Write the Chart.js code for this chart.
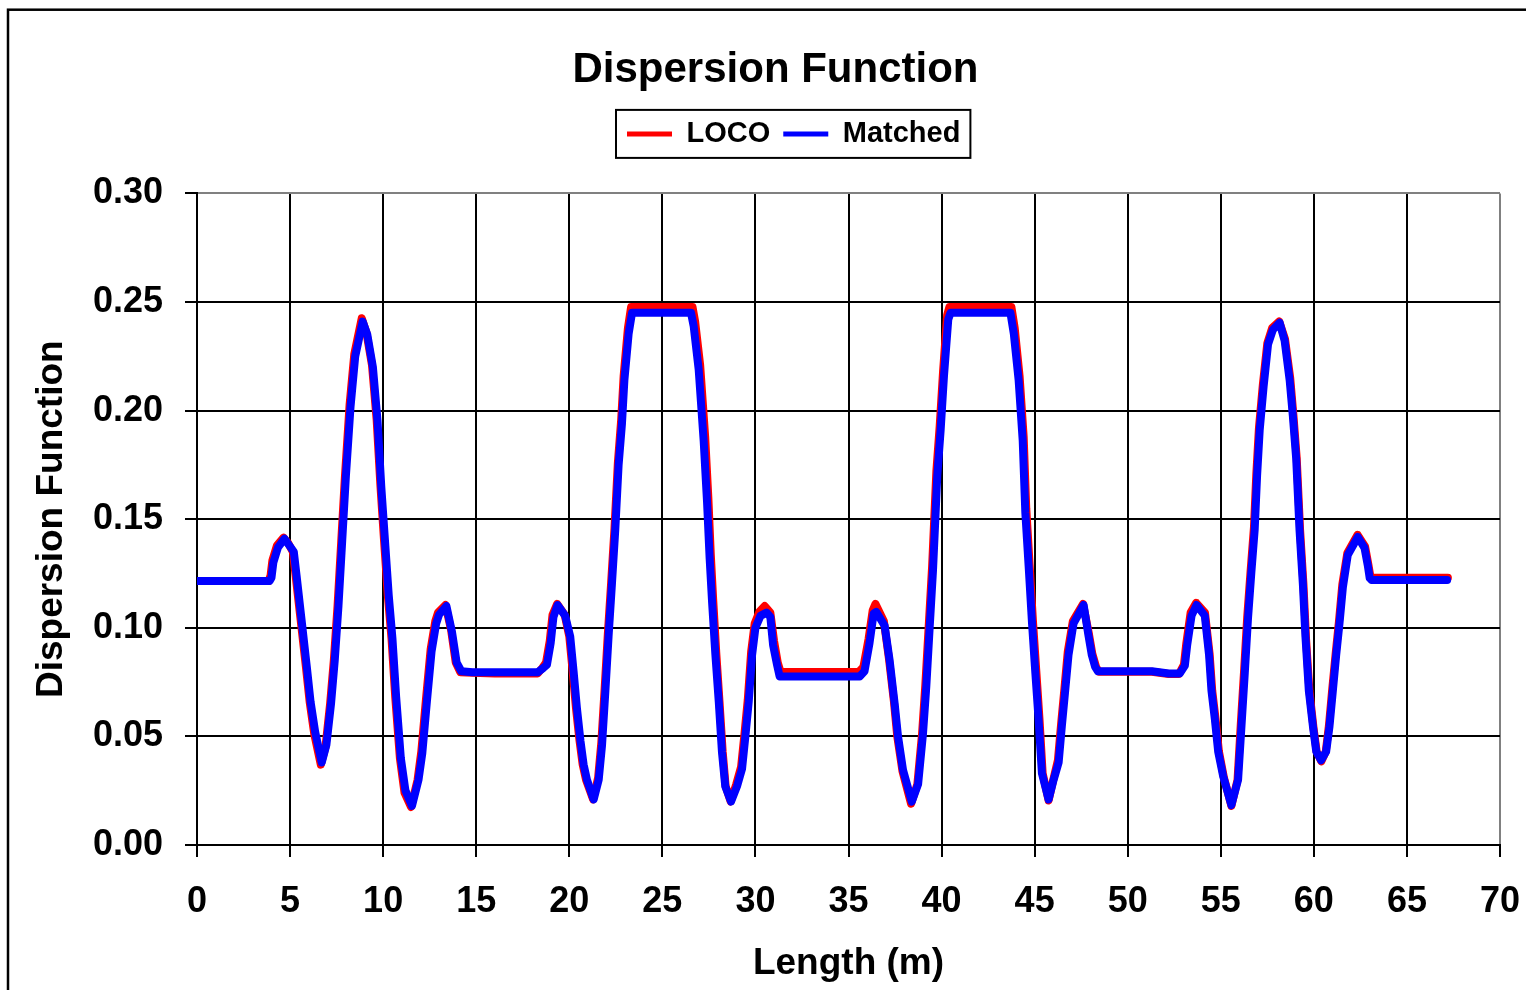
<!DOCTYPE html>
<html>
<head>
<meta charset="utf-8">
<title>Dispersion Function</title>
<script src="https://cdn.jsdelivr.net/npm/chart.js@4.4.1/dist/chart.umd.min.js"></script>
<style>
  html, body { margin: 0; padding: 0; background: #ffffff; }
  canvas { display: block; }
</style>
</head>
<body>
<canvas id="chart" width="1526" height="990"></canvas>
<script>
// Dispersion function along the lattice (m)
const seriesNames = ['LOCO', 'Matched'];

const locoLength = [
  0, 3.85, 3.95, 4.05, 4.3, 4.65, 4.9, 5.15, 5.3, 5.55, 5.85, 6.05, 6.3, 6.65, 6.9, 7.15, 7.35, 7.55, 7.75, 7.95,
  8.2, 8.45, 8.85, 9.1, 9.4, 9.65, 9.85, 10.05, 10.25, 10.45, 10.65, 10.9, 11.15, 11.5, 11.85, 12.05, 12.3, 12.55,
  12.8, 12.95, 13.35, 13.65, 13.9, 14.15, 14.8, 16, 18.3, 18.55, 18.75, 18.95, 19.1, 19.35, 19.75, 20.0, 20.18,
  20.36, 20.55, 20.72, 20.9, 21.28, 21.55, 21.72, 21.9, 22.07, 22.25, 22.43, 22.61, 22.79, 22.92, 23.15, 23.32,
  26.62, 26.76, 27.03, 27.3, 27.47, 27.6, 27.73, 27.9, 28.07, 28.24, 28.4, 28.67, 28.97, 29.23, 29.41, 29.59,
  29.77, 29.96, 30.22, 30.5, 30.8, 31.0, 31.2, 31.35, 33, 35.55, 35.8, 36.08, 36.3, 36.45, 36.9, 37.17, 37.44,
  37.62, 37.9, 38.36, 38.7, 38.95, 39.13, 39.31, 39.49, 39.72, 39.9, 40.08, 40.3, 40.42, 43.75, 43.93, 44.19,
  44.41, 44.55, 44.73, 44.91, 45.09, 45.26, 45.43, 45.75, 46.0, 46.25, 46.42, 46.6, 46.78, 47.05, 47.6, 47.92,
  48.1, 48.3, 48.45, 51.3, 52.2, 52.75, 53.02, 53.15, 53.38, 53.68, 54.15, 54.4, 54.54, 54.72, 54.9, 55.17,
  55.57, 55.9, 56.07, 56.25, 56.42, 56.6, 56.78, 56.91, 57.05, 57.26, 57.5, 57.76, 58.14, 58.45, 58.73, 58.9,
  59.08, 59.26, 59.44, 59.58, 59.76, 59.98, 60.15, 60.4, 60.64, 60.81, 60.99, 61.17, 61.35, 61.53, 61.8, 62.35,
  62.75, 62.93, 63.03, 63.12, 67.2
];
const locoDispersion = [
  0.1215, 0.1215, 0.124, 0.131, 0.138, 0.1415, 0.139, 0.135, 0.124, 0.105, 0.082, 0.066, 0.051, 0.037, 0.045,
  0.065, 0.085, 0.110, 0.140, 0.170, 0.203, 0.226, 0.2425, 0.236, 0.221, 0.196, 0.166, 0.140, 0.115, 0.095,
  0.068, 0.040, 0.024, 0.0175, 0.030, 0.043, 0.067, 0.090, 0.103, 0.107, 0.1105, 0.099, 0.084, 0.0795, 0.0793,
  0.079, 0.079, 0.0815, 0.084, 0.094, 0.106, 0.111, 0.106, 0.096, 0.080, 0.063, 0.048, 0.037, 0.030, 0.021,
  0.031, 0.047, 0.072, 0.097, 0.121, 0.146, 0.176, 0.196, 0.216, 0.238, 0.2477, 0.2477, 0.241, 0.221, 0.188,
  0.160, 0.134, 0.113, 0.088, 0.066, 0.043, 0.027, 0.020, 0.028, 0.036, 0.051, 0.067, 0.089, 0.102, 0.1075,
  0.110, 0.107, 0.094, 0.084, 0.0797, 0.0797, 0.0797, 0.082, 0.095, 0.108, 0.111, 0.103, 0.086, 0.066, 0.050,
  0.034, 0.019, 0.028, 0.051, 0.074, 0.101, 0.128, 0.172, 0.193, 0.218, 0.244, 0.2477, 0.2477, 0.238, 0.216,
  0.188, 0.155, 0.129, 0.103, 0.080, 0.058, 0.033, 0.0205, 0.030, 0.039, 0.0555, 0.072, 0.089, 0.103, 0.111,
  0.097, 0.088, 0.082, 0.0798, 0.0798, 0.0787, 0.0787, 0.083, 0.093, 0.107, 0.1115, 0.107, 0.088, 0.071, 0.058,
  0.043, 0.031, 0.018, 0.030, 0.055, 0.080, 0.105, 0.126, 0.146, 0.171, 0.192, 0.212, 0.231, 0.238, 0.241,
  0.233, 0.215, 0.198, 0.178, 0.145, 0.120, 0.095, 0.071, 0.054, 0.043, 0.0385, 0.043, 0.055, 0.072, 0.088,
  0.103, 0.120, 0.1345, 0.1428, 0.1375, 0.129, 0.124, 0.123, 0.123
];

const matchedLength = [
  0, 3.9, 4.0, 4.1, 4.35, 4.7, 4.95, 5.2, 5.35, 5.6, 5.9, 6.1, 6.35, 6.7, 6.95, 7.2, 7.4, 7.6, 7.8, 8.0, 8.25,
  8.5, 8.9, 9.15, 9.45, 9.7, 9.9, 10.1, 10.3, 10.5, 10.7, 10.95, 11.2, 11.55, 11.9, 12.1, 12.35, 12.6, 12.85,
  13.0, 13.4, 13.7, 13.95, 14.2, 14.8, 16, 18.3, 18.6, 18.8, 19.0, 19.15, 19.37, 19.78, 20.05, 20.23, 20.41,
  20.6, 20.77, 20.95, 21.31, 21.58, 21.76, 21.94, 22.11, 22.29, 22.47, 22.65, 22.83, 22.96, 23.19, 23.37,
  26.54, 26.68, 26.95, 27.22, 27.4, 27.54, 27.67, 27.85, 28.03, 28.2, 28.38, 28.69, 29.01, 29.28, 29.46, 29.64,
  29.82, 30.0, 30.27, 30.6, 30.8, 30.95, 31.16, 31.3, 33, 35.6, 35.86, 36.13, 36.35, 36.49, 36.94, 37.21, 37.48,
  37.66, 37.93, 38.4, 38.74, 39.0, 39.18, 39.36, 39.54, 39.77, 39.95, 40.13, 40.36, 40.48, 43.7, 43.88, 44.14,
  44.36, 44.5, 44.68, 44.86, 45.04, 45.21, 45.39, 45.75, 46.02, 46.29, 46.46, 46.64, 46.82, 47.09, 47.63, 47.9,
  48.07, 48.25, 48.4, 51.3, 52.2, 52.8, 53.07, 53.2, 53.43, 53.7, 54.14, 54.37, 54.5, 54.68, 54.86, 55.13,
  55.57, 55.93, 56.11, 56.29, 56.46, 56.64, 56.82, 56.95, 57.09, 57.3, 57.54, 57.8, 58.16, 58.43, 58.7, 58.87,
  59.05, 59.23, 59.41, 59.55, 59.73, 59.95, 60.13, 60.39, 60.66, 60.84, 61.02, 61.2, 61.38, 61.56, 61.82,
  62.36, 62.72, 62.9, 63.0, 63.1, 67.16
];
const matchedDispersion = [
  0.1215, 0.1215, 0.123, 0.130, 0.137, 0.141, 0.138, 0.135, 0.124, 0.105, 0.082, 0.066, 0.052, 0.038, 0.046,
  0.065, 0.085, 0.110, 0.140, 0.170, 0.202, 0.225, 0.241, 0.235, 0.220, 0.195, 0.165, 0.140, 0.115, 0.095,
  0.068, 0.040, 0.025, 0.018, 0.030, 0.042, 0.066, 0.089, 0.102, 0.106, 0.110, 0.098, 0.084, 0.080, 0.0795,
  0.0795, 0.0795, 0.0815, 0.083, 0.093, 0.105, 0.1105, 0.1055, 0.096, 0.080, 0.063, 0.048, 0.037, 0.030, 0.021,
  0.030, 0.046, 0.071, 0.096, 0.120, 0.145, 0.175, 0.194, 0.214, 0.2355, 0.245, 0.245, 0.239, 0.219, 0.186,
  0.158, 0.132, 0.112, 0.0875, 0.066, 0.043, 0.027, 0.020, 0.027, 0.035, 0.050, 0.066, 0.0875, 0.100, 0.1055,
  0.107, 0.105, 0.092, 0.083, 0.0776, 0.0776, 0.0776, 0.080, 0.093, 0.1065, 0.1073, 0.101, 0.085, 0.065, 0.050,
  0.0345, 0.020, 0.028, 0.051, 0.073, 0.100, 0.1265, 0.170, 0.191, 0.216, 0.242, 0.245, 0.245, 0.2355, 0.214,
  0.186, 0.153, 0.128, 0.102, 0.079, 0.058, 0.033, 0.021, 0.030, 0.038, 0.0546, 0.071, 0.0875, 0.102, 0.1105,
  0.096, 0.0875, 0.082, 0.080, 0.080, 0.079, 0.079, 0.0826, 0.0924, 0.1056, 0.1105, 0.1056, 0.0875, 0.071,
  0.058, 0.043, 0.0316, 0.0184, 0.030, 0.0546, 0.0793, 0.104, 0.1253, 0.145, 0.170, 0.191, 0.211, 0.2306,
  0.2372, 0.2405, 0.2322, 0.214, 0.1977, 0.178, 0.145, 0.120, 0.0957, 0.071, 0.0546, 0.043, 0.039, 0.043,
  0.0546, 0.071, 0.0875, 0.1023, 0.1187, 0.1335, 0.1418, 0.1368, 0.1286, 0.1229, 0.122, 0.122
];

const xTickStep = 5;
const yTickStep = 0.05;

const FONT = '"Liberation Sans", Arial, Helvetica, sans-serif';
Chart.defaults.font.family = FONT;
Chart.defaults.color = '#000000';

const toPoints = (xs, ys) => xs.map((x, i) => ({ x: x, y: ys[i] }));

// Outer frame and white page behind the chart
const framePlugin = {
  id: 'frame',
  beforeDraw(chart) {
    const ctx = chart.ctx;
    ctx.save();
    ctx.fillStyle = '#ffffff';
    ctx.fillRect(0, 0, chart.width, chart.height);
    ctx.strokeStyle = '#000000';
    ctx.lineWidth = 2.5;
    ctx.strokeRect(8, 9.7, chart.width + 40, chart.height + 40);
    ctx.restore();
  }
};

// Legend placement and the box drawn round it
const LEGEND_START_X = 627;
const legendBoxPlugin = {
  id: 'legendBox',
  afterLayout(chart) {
    const lg = chart.legend;
    if (!lg || !lg.lineWidths) return;
    const pad = lg.options.labels.padding;
    const start = (lg.left + pad + lg.right - lg.lineWidths[0]) / 2;
    const dx = LEGEND_START_X - start;
    lg.left += dx;
    lg.right += dx;
  },
  afterDraw(chart) {
    const lg = chart.legend;
    if (!lg || !lg.legendItems) return;
    const ctx = chart.ctx;
    const lab = lg.options.labels;
    const fontSize = lab.font.size;
    ctx.save();
    ctx.font = 'bold ' + fontSize + 'px ' + FONT;
    let total = 0;
    lg.legendItems.forEach((item, i) => {
      total += lab.boxWidth + fontSize / 2 + ctx.measureText(item.text).width;
      if (i > 0) total += lab.padding;
    });
    const itemHeight = Math.max(fontSize, lab.boxHeight);
    const cy = lg.top + lab.padding + itemHeight / 2;
    ctx.strokeStyle = '#000000';
    ctx.lineWidth = 2;
    ctx.strokeRect(LEGEND_START_X - 11, cy - 24, total + 21, 48);
    ctx.restore();
  }
};

const isVal = (a, b) => Math.abs(a - b) < 1e-9;

new Chart(document.getElementById('chart'), {
  type: 'line',
  data: {
    datasets: [
      {
        label: seriesNames[0],
        data: toPoints(locoLength, locoDispersion),
        borderColor: '#ff0000',
        backgroundColor: '#ff0000',
        borderWidth: 8,
        pointRadius: 0,
        tension: 0,
        fill: false,
        borderJoinStyle: 'round',
        borderCapStyle: 'round',
        order: 1
      },
      {
        label: seriesNames[1],
        data: toPoints(matchedLength, matchedDispersion),
        borderColor: '#0000ff',
        backgroundColor: '#0000ff',
        borderWidth: 8,
        pointRadius: 0,
        tension: 0,
        fill: false,
        borderJoinStyle: 'round',
        borderCapStyle: 'round',
        order: 0
      }
    ]
  },
  options: {
    responsive: false,
    animation: false,
    devicePixelRatio: 1,
    layout: { padding: { left: 31, right: 6, top: 0, bottom: 0 } },
    plugins: {
      title: {
        display: true,
        text: 'Dispersion Function',
        color: '#000000',
        font: { size: 42, weight: 'bold', family: FONT },
        padding: { top: 45, bottom: 11 }
      },
      subtitle: {
        display: true,
        text: '',
        weight: 500,
        font: { size: 10 },
        padding: { top: 23, bottom: 0 }
      },
      legend: {
        display: true,
        position: 'top',
        labels: {
          boxWidth: 45,
          boxHeight: 5,
          padding: 13,
          color: '#000000',
          font: { size: 29, weight: 'bold', family: FONT },
          generateLabels(chart) {
            return Chart.defaults.plugins.legend.labels.generateLabels(chart)
              .sort((a, b) => a.datasetIndex - b.datasetIndex)
              .map(l => Object.assign({}, l, { fillStyle: l.strokeStyle, lineWidth: 0 }));
          }
        }
      },
      tooltip: { enabled: false }
    },
    scales: {
      x: {
        type: 'linear',
        min: 0,
        max: 70,
        ticks: {
          stepSize: xTickStep,
          autoSkip: false,
          maxRotation: 0,
          padding: 23,
          color: '#000000',
          font: { size: 36, weight: 'bold', family: FONT }
        },
        grid: {
          color: c => (c.tick && isVal(c.tick.value, 70)) ? '#808080' : '#000000',
          lineWidth: 2,
          drawTicks: true,
          tickLength: 12,
          tickColor: '#000000',
          tickWidth: 2
        },
        border: { display: true, color: '#000000', width: 2 },
        title: {
          display: true,
          text: 'Length (m)',
          color: '#000000',
          font: { size: 37, weight: 'bold', family: FONT },
          padding: { top: 0, bottom: 4 }
        },
        afterFit(scale) {
          scale.height = 145;
          scale.paddingRight = 26;
        }
      },
      y: {
        type: 'linear',
        min: 0,
        max: 0.3,
        ticks: {
          stepSize: yTickStep,
          padding: 22,
          color: '#000000',
          font: { size: 36, weight: 'bold', family: FONT },
          callback: v => Number(v).toFixed(2)
        },
        grid: {
          color: c => (c.tick && isVal(c.tick.value, 0.3)) ? '#808080' : '#000000',
          lineWidth: 2,
          drawTicks: true,
          tickLength: 12,
          tickColor: '#000000',
          tickWidth: 2
        },
        border: { display: true, color: '#000000', width: 2 },
        title: {
          display: true,
          text: 'Dispersion Function',
          color: '#000000',
          font: { size: 37, weight: 'bold', family: FONT, lineHeight: 1 },
          padding: { top: 2, bottom: 0 }
        },
        afterFit(scale) { scale.width = 166; }
      }
    }
  },
  plugins: [framePlugin, legendBoxPlugin]
});
</script>
</body>
</html>
